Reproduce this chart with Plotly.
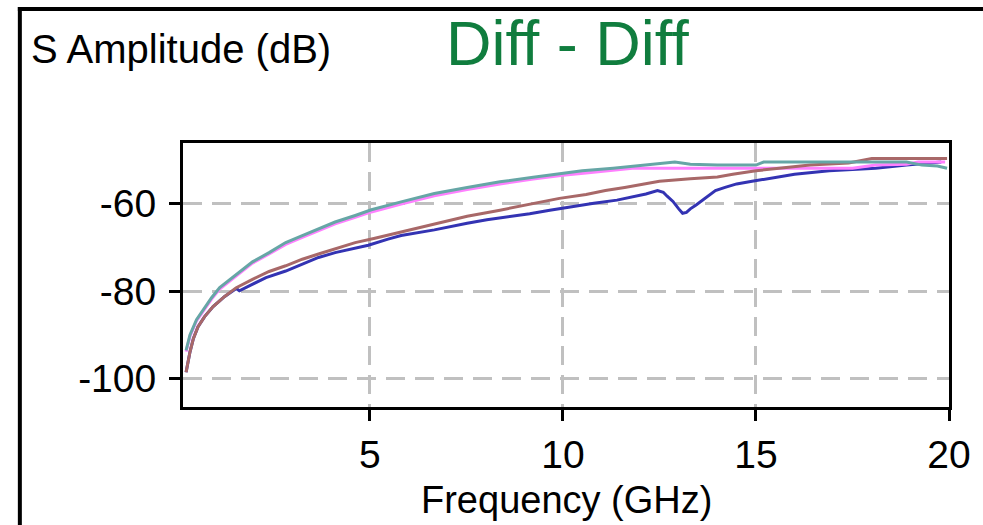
import plotly.graph_objects as go

# ---------------- data ----------------
teal_f = [0.24, 0.34, 0.51, 0.68, 0.90, 1.11, 1.45, 1.96, 2.39, 2.82, 3.25, 3.67, 4.10, 4.62,
          5.04, 5.81, 6.67, 7.52, 8.37, 9.23, 10.0, 10.5, 11.3, 12.2, 12.9, 13.3, 14.0, 15.0,
          15.2, 17.0, 18.9, 19.3, 19.7, 19.95]
teal_v = [-93.5, -90.0, -86.5, -84.2, -81.5, -79.2, -76.9, -73.3, -71.2, -68.9, -67.3, -65.8, -64.2, -62.7,
          -61.4, -59.6, -57.7, -56.3, -55.0, -54.0, -53.0, -52.5, -51.9, -51.2, -50.5, -51.0, -51.2, -51.2,
          -50.5, -50.5, -50.5, -51.2, -51.4, -51.9]

pink_f = [0.24, 0.34, 0.51, 0.68, 0.90, 1.11, 1.45, 1.96, 2.39, 2.82, 3.25, 3.67, 4.10, 4.62,
          5.04, 5.81, 6.67, 7.52, 8.37, 9.23, 10.0, 10.6, 11.2, 11.8, 15.3, 16.0, 17.5, 18.1,
          18.9, 19.2, 19.9]
pink_v = [-93.8, -90.3, -86.8, -84.5, -81.8, -79.5, -77.2, -73.6, -71.5, -69.3, -67.7, -66.2, -64.6, -63.1,
          -61.9, -60.1, -58.2, -56.8, -55.5, -54.4, -53.5, -53.0, -52.5, -51.9, -51.9, -51.9, -51.9, -51.2,
          -51.0, -50.5, -50.5]

maroon_f = [0.24, 0.30, 0.34, 0.43, 0.55, 0.72, 0.94, 1.24, 1.54, 1.96, 2.39, 2.82, 3.25, 3.67,
            4.10, 4.62, 5.13, 5.81, 6.67, 7.52, 8.37, 9.23, 9.91, 10.6, 11.1, 11.6, 12.1, 12.5,
            13.3, 14.0, 14.4, 15.0, 15.6, 16.4, 17.4, 18.0, 19.95]
maroon_v = [-98.5, -95.5, -93.9, -90.8, -88.1, -85.8, -83.5, -81.2, -79.2, -77.3, -75.5, -74.2, -72.7, -71.5,
            -70.4, -68.9, -67.9, -66.5, -64.6, -62.9, -61.5, -60.0, -58.8, -57.9, -57.0, -56.3, -55.5, -54.9,
            -54.3, -53.9, -53.3, -52.5, -51.9, -51.2, -50.7, -49.7, -49.7]

blue_f = [0.24, 0.30, 0.34, 0.43, 0.55, 0.72, 0.94, 1.24, 1.54, 1.62, 2.31, 2.82, 3.25, 3.67,
          4.10, 4.53, 4.96, 5.47, 5.81, 6.67, 7.09, 7.52, 8.03, 8.55, 9.14, 9.66, 10.2, 10.8,
          11.4, 11.75, 12.15, 12.45, 12.6, 12.7, 12.85, 13.0, 13.1, 13.2, 13.3, 13.45, 13.6,
          13.75, 13.95, 14.2, 14.5, 14.9, 15.4, 16.0, 16.9, 18.1, 18.9, 19.8]
blue_v = [-98.5, -95.5, -93.9, -90.8, -88.1, -85.8, -83.5, -81.2, -79.4, -79.9, -76.9, -75.4, -73.8, -72.3,
          -71.2, -70.4, -69.5, -68.1, -67.3, -66.0, -65.2, -64.5, -63.7, -63.1, -62.3, -61.5, -60.7, -59.9,
          -59.2, -58.5, -57.8, -57.0, -57.4, -58.3, -59.5, -61.2, -62.2, -62.0, -61.2, -60.3, -59.3,
          -58.2, -57.0, -56.3, -55.5, -54.9, -54.1, -53.3, -52.5, -51.9, -51.2, -50.5]

x_ticks = [5, 10, 15, 20]
y_ticks = [-60, -80, -100]

# ---------------- figure ----------------
W, H = 983, 525
L, R, T, B = 183, 953, 143, 407   # plot box in pixels


def px(x):
    return (x - L) / (R - L)


def py(y):
    return (B - y) / (B - T)


FONT = "Liberation Sans, Arial, sans-serif"

fig = go.Figure()
series = [
    (blue_f, blue_v, "#3333b3"),
    (pink_f, pink_v, "#ff80ff"),
    (maroon_f, maroon_v, "#a86868"),
    (teal_f, teal_v, "#66a6a6"),
]
for f, v, c in series:
    fig.add_trace(go.Scatter(x=f, y=v, mode="lines", line=dict(color=c, width=3),
                             showlegend=False, hoverinfo="skip"))

axis_common = dict(
    showline=True, linecolor="black", linewidth=3, mirror=True,
    ticks="outside", ticklen=11, tickwidth=3, tickcolor="black",
    showgrid=True, gridcolor="#c0c0c0", gridwidth=3, griddash="19px,10px",
    zeroline=False, tickfont=dict(family=FONT, size=39, color="black"),
)

fig.update_xaxes(range=[0.16, 20.0], tickvals=x_ticks, ticktext=[str(t) for t in x_ticks],
                 ticklabelstandoff=0, **axis_common)
fig.update_yaxes(range=[-106.46, -46.15], tickvals=y_ticks, ticktext=[str(t) for t in y_ticks],
                 ticklabelstandoff=5, **axis_common)

annotations = [
    dict(text="Diff - Diff", x=px(570), y=py(43), xanchor="center", yanchor="middle",
         font=dict(family=FONT, size=63, color="#107d3e")),
    dict(text="S Amplitude (dB)", x=px(28), y=py(49), xanchor="left", yanchor="middle",
         font=dict(family=FONT, size=40, color="black")),
    dict(text="Frequency (GHz)", x=px(569), y=py(500), xanchor="center", yanchor="middle",
         font=dict(family=FONT, size=38, color="black")),
]
for a in annotations:
    a.update(xref="paper", yref="paper", showarrow=False)

shapes = [
    dict(type="line", xref="paper", yref="paper", x0=px(17), x1=px(990), y0=py(9), y1=py(9),
         line=dict(color="black", width=4)),
    dict(type="line", xref="paper", yref="paper", x0=px(19), x1=px(19), y0=py(7), y1=py(530),
         line=dict(color="black", width=4)),
]

fig.update_layout(
    width=W, height=H,
    margin=dict(l=L, r=W - R, t=T, b=H - B, pad=0),
    paper_bgcolor="white", plot_bgcolor="white",
    annotations=annotations, shapes=shapes,
    font=dict(family=FONT),
)

fig.write_html("out.html", config={"displayModeBar": False, "staticPlot": True},
               post_script="document.body.style.margin='0';document.body.style.overflow='hidden';")
